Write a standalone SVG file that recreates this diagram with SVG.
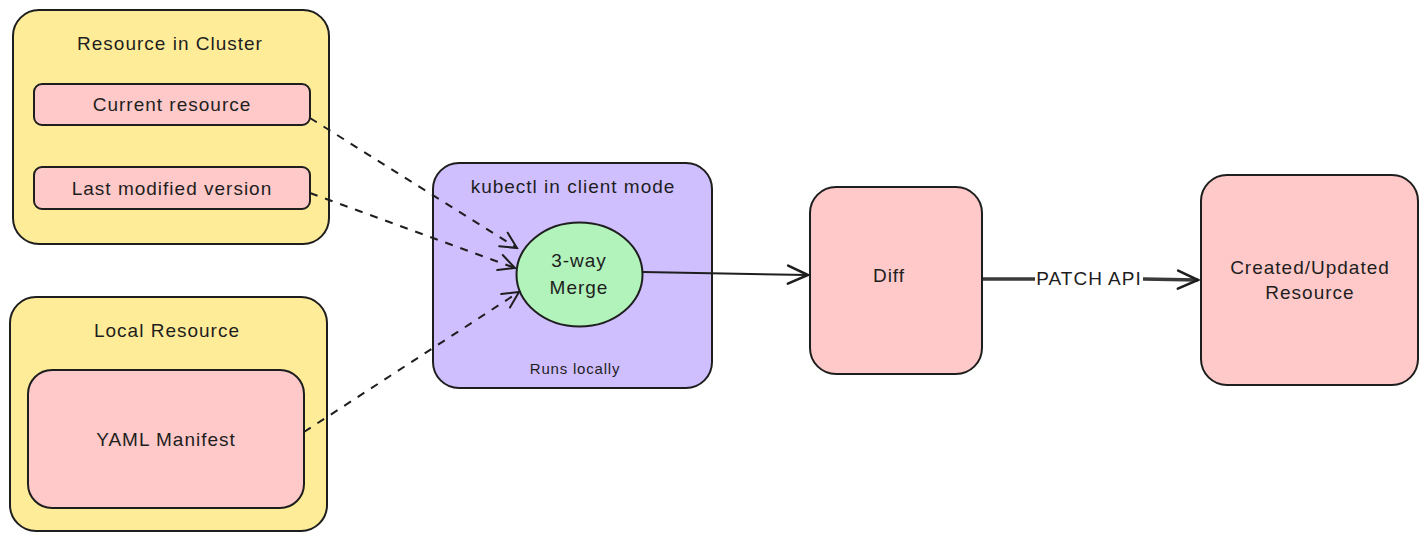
<svg xmlns="http://www.w3.org/2000/svg" width="1427" height="542" viewBox="0 0 1427 542">
<style>
.box{stroke:#1e1e1e;stroke-width:2}
.yel{fill:#ffec99}
.pink{fill:#ffc9c9}
.purp{fill:#d0bfff}
.green{fill:#b2f2bb}
text{font-family:"Liberation Sans","Noto Sans",sans-serif;fill:#1e1e1e;text-anchor:middle;dominant-baseline:central}
.t{font-size:19px;letter-spacing:1px}
.s{font-size:15px;letter-spacing:0.8px}
.dash{fill:none;stroke:#1e1e1e;stroke-width:2;stroke-dasharray:8 8}
.solid{fill:none;stroke:#1e1e1e;stroke-width:2}
.thick{fill:none;stroke:#3a3a3a;stroke-width:3.5}
</style>
<defs>
<marker id="arr" viewBox="0 0 20 20" refX="18" refY="10" markerWidth="20" markerHeight="20" markerUnits="userSpaceOnUse" orient="auto">
<path d="M2,2 L18,10 L2,18" fill="none" stroke="#1e1e1e" stroke-width="2" stroke-linecap="round"/>
</marker>
<marker id="arr2" viewBox="0 0 24 24" refX="22" refY="12" markerWidth="24" markerHeight="24" markerUnits="userSpaceOnUse" orient="auto">
<path d="M2,3 L22,12 L2,21" fill="none" stroke="#1e1e1e" stroke-width="2.5" stroke-linecap="round"/>
</marker>
</defs>
<g id="cluster">
<rect class="box yel" x="13" y="10" width="316" height="234" rx="26"/>
<text class="t" x="170" y="43">Resource in Cluster</text>
</g>
<g id="current">
<rect class="box pink" x="34" y="84" width="276" height="41" rx="8"/>
<text class="t" x="172" y="104">Current resource</text>
</g>
<g id="lastmod">
<rect class="box pink" x="34" y="167" width="276" height="42" rx="8"/>
<text class="t" x="172" y="188">Last modified version</text>
</g>
<g id="local">
<rect class="box yel" x="10" y="297" width="317" height="234" rx="26"/>
<text class="t" x="167" y="330">Local Resource</text>
</g>
<g id="yaml">
<rect class="box pink" x="28" y="370" width="276" height="138" rx="24"/>
<text class="t" x="166" y="439">YAML Manifest</text>
</g>
<g id="kubectl">
<rect class="box purp" x="433" y="163" width="279" height="225" rx="26"/>
<text class="t" x="573" y="186">kubectl in client mode</text>
<text class="s" x="575" y="368">Runs locally</text>
</g>
<g id="merge">
<ellipse class="box green" cx="579.5" cy="274.5" rx="63" ry="52"/>
<text class="t" x="579" y="260">3-way</text>
<text class="t" x="579" y="287">Merge</text>
</g>
<g id="diff">
<rect class="box pink" x="810" y="187" width="172" height="187" rx="26"/>
<text class="t" x="889" y="275">Diff</text>
</g>
<g id="result">
<rect class="box pink" x="1201" y="175" width="217" height="210" rx="26"/>
<text class="t" x="1310" y="267">Created/Updated</text>
<text class="t" x="1310" y="292">Resource</text>
</g>
<g id="connectors">
<path class="dash" d="M310,118 L517,248" marker-end="url(#arr)"/>
<path class="dash" d="M310,193 L515,268" marker-end="url(#arr)"/>
<path class="dash" d="M304,432 L519,292" marker-end="url(#arr)"/>
<path class="solid" d="M643,272 L808,275" marker-end="url(#arr2)"/>
<path class="thick" d="M983,279 L1035,279"/>
<path class="thick" d="M1143,279 L1198,280" marker-end="url(#arr2)"/>
<text class="t" x="1089" y="278">PATCH API</text>
</g>
</svg>
